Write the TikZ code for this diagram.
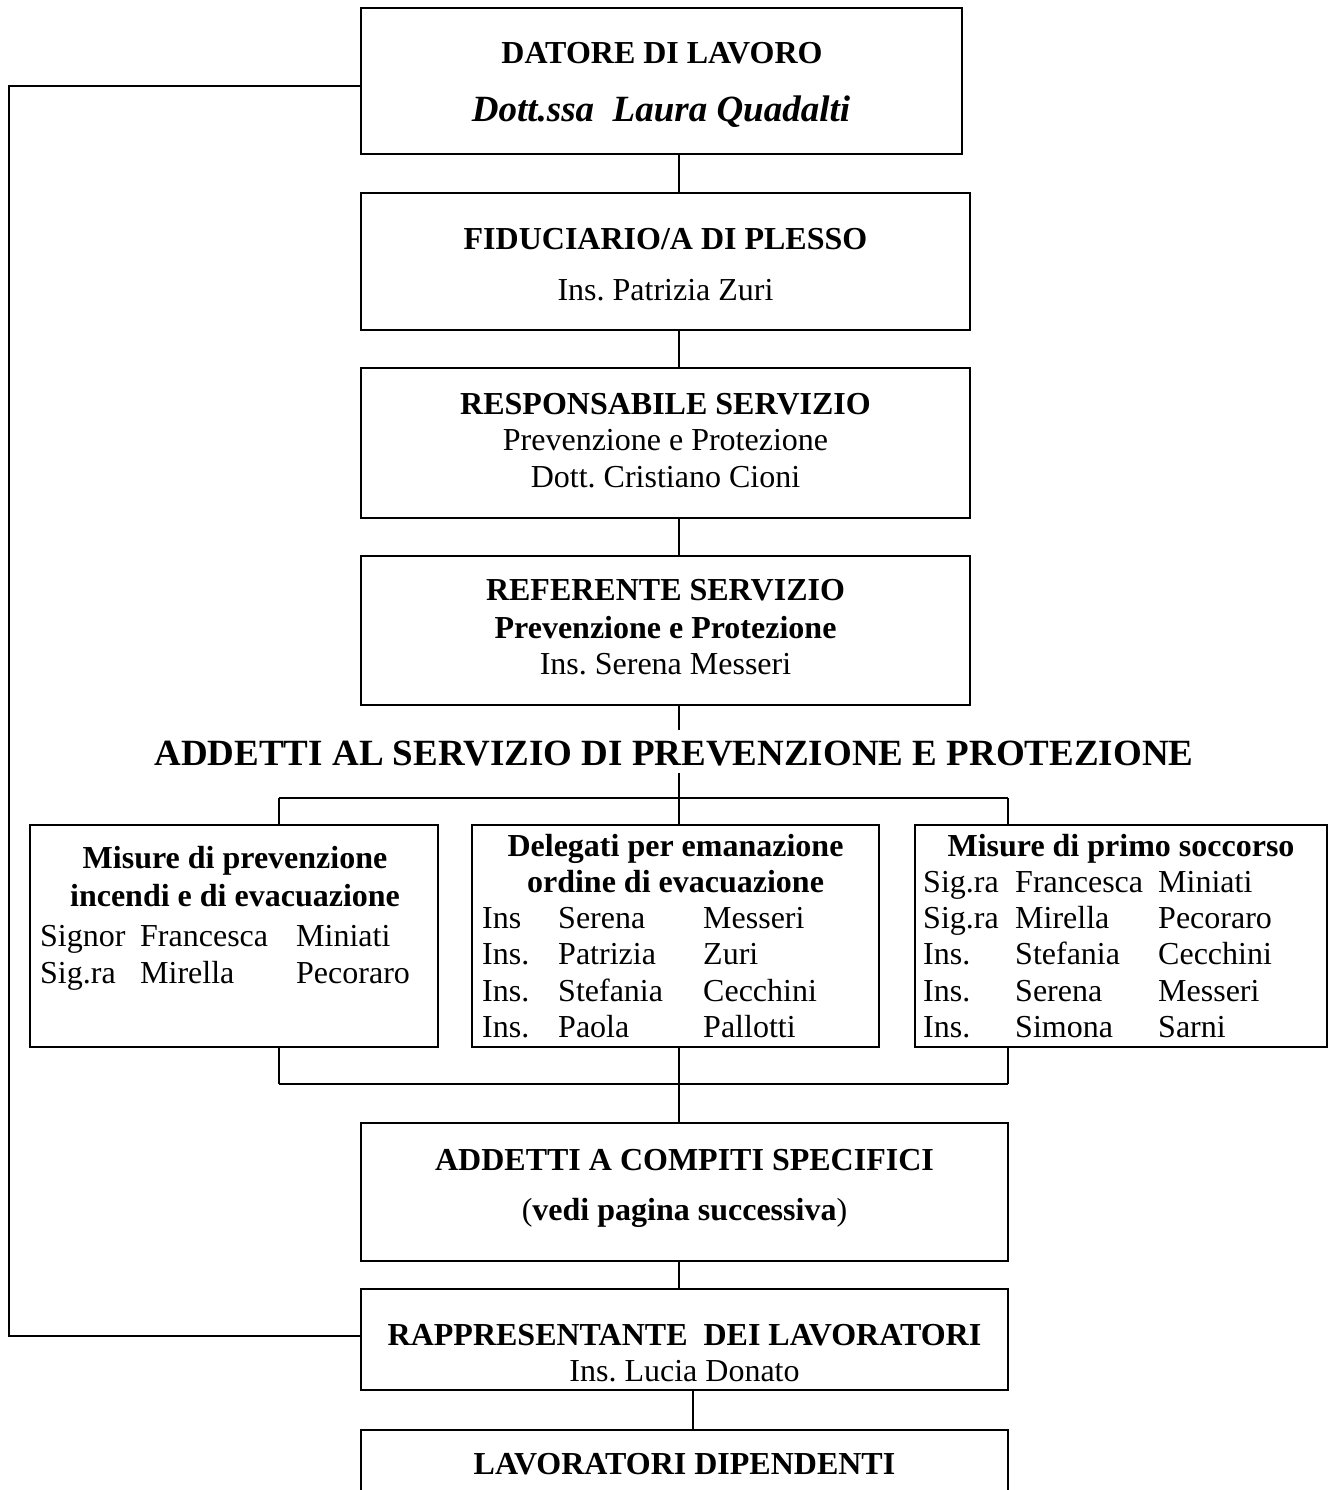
\documentclass[tikz,border=0pt]{standalone}
\usepackage{fontspec}
\setmainfont{Liberation Serif}
\frenchspacing
\begin{document}
\begin{tikzpicture}[x=1pt,y=-1pt,
  box/.style={draw, line width=1.6pt, rectangle, inner sep=0pt, outer sep=0pt},
  conn/.style={line width=1.6pt},
  txt/.style={anchor=base, inner sep=0pt, font=\fontsize{32}{36}\selectfont},
  btxt/.style={txt, font=\fontsize{32}{36}\selectfont\bfseries},
  cell/.style={anchor=base west, inner sep=0pt, font=\fontsize{32}{36}\selectfont},
  big/.style={anchor=base, inner sep=0pt, font=\fontsize{37}{42}\selectfont\bfseries}
]
\useasboundingbox (0,0) rectangle (1332,1490);
% boxes
\node[box, minimum width=601, minimum height=146] (b1) at (661.5,81) {};
\node[box, minimum width=609, minimum height=137] (b2) at (665.5,261.5) {};
\node[box, minimum width=609, minimum height=150] (b3) at (665.5,443) {};
\node[box, minimum width=609, minimum height=149] (b4) at (665.5,630.5) {};
\node[box, minimum width=408, minimum height=222] (b5) at (234,936) {};
\node[box, minimum width=407, minimum height=222] (b6) at (675.5,936) {};
\node[box, minimum width=412, minimum height=222] (b7) at (1121,936) {};
\node[box, minimum width=647, minimum height=138] (b8) at (684.5,1192) {};
\node[box, minimum width=647, minimum height=101] (b9) at (684.5,1339.5) {};
\node[box, minimum width=647, minimum height=100] (b10) at (684.5,1480) {};
% helper coordinates
\coordinate (cx) at (679,0);
\coordinate (lx) at (279,0);
\coordinate (rx) at (1008,0);
\coordinate (hx) at (693,0);
\coordinate (h1) at (679,730);
\coordinate (h2) at (679,773);
\coordinate (bartop) at (679,798);
\coordinate (barbot) at (679,1084);
\coordinate (l1) at (9,86);
\coordinate (l2) at (9,1336);
% connectors
\draw[conn] (b1.south -| cx) -- (b2.north -| cx);
\draw[conn] (b2.south -| cx) -- (b3.north -| cx);
\draw[conn] (b3.south -| cx) -- (b4.north -| cx);
\draw[conn] (b4.south -| cx) -- (h1);
\draw[conn] (h2) -- (bartop);
\draw[conn] (bartop -| lx) -- (bartop -| rx);
\draw[conn] (bartop -| lx) -- (b5.north -| lx);
\draw[conn] (bartop) -- (b6.north -| cx);
\draw[conn] (bartop -| rx) -- (b7.north -| rx);
\draw[conn] (b5.south -| lx) -- (barbot -| lx);
\draw[conn] (b6.south -| cx) -- (barbot);
\draw[conn] (b7.south -| rx) -- (barbot -| rx);
\draw[conn] (barbot -| lx) -- (barbot -| rx);
\draw[conn] (barbot) -- (b8.north -| cx);
\draw[conn] (b8.south -| cx) -- (b9.north -| cx);
\draw[conn] (b9.south -| hx) -- (b10.north -| hx);
\draw[conn] (b1.west |- l1) -- (l1) -- (l2) -- (b9.west |- l2);
% texts
\node[btxt] (t1a) at (662,64) {DATORE DI LAVORO};
\node[anchor=base, inner sep=0pt, font=\fontsize{37}{42}\selectfont\bfseries\itshape] (t1b) at (661,122) {Dott.ssa\ \ Laura Quadalti};
\node[btxt] (t2a) at (665.5,249) {FIDUCIARIO/A DI PLESSO};
\node[txt] (t2b) at (665.5,300) {Ins. Patrizia Zuri};
\node[btxt] (t3a) at (665.5,414) {RESPONSABILE SERVIZIO};
\node[txt] (t3b) at (665.5,450) {Prevenzione e Protezione};
\node[txt] (t3c) at (665.5,487) {Dott. Cristiano Cioni};
\node[btxt] (t4a) at (665.5,600) {REFERENTE SERVIZIO};
\node[btxt] (t4b) at (665.5,638) {Prevenzione e Protezione};
\node[txt] (t4c) at (665.5,674) {Ins. Serena Messeri};
\node[big] (head) at (674,765) {ADDETTI AL SERVIZIO DI PREVENZIONE E PROTEZIONE};
% left box
\node[btxt] (t5a) at (235,868) {Misure di prevenzione};
\node[btxt] (t5b) at (235,906) {incendi e di evacuazione};
\node[cell] (c51a) at (40,946) {Signor};
\node[cell] (c51b) at (140,946) {Francesca};
\node[cell] (c51c) at (296,946) {Miniati};
\node[cell] (c52a) at (40,983) {Sig.ra};
\node[cell] (c52b) at (140,983) {Mirella};
\node[cell] (c52c) at (296,983) {Pecoraro};
% middle box
\node[btxt] (t6a) at (675.5,856) {Delegati per emanazione};
\node[btxt] (t6b) at (675.5,892) {ordine di evacuazione};
\node[cell] (c61a) at (482,928) {Ins};
\node[cell] (c61b) at (558,928) {Serena};
\node[cell] (c61c) at (703,928) {Messeri};
\node[cell] (c62a) at (482,964) {Ins.};
\node[cell] (c62b) at (558,964) {Patrizia};
\node[cell] (c62c) at (703,964) {Zuri};
\node[cell] (c63a) at (482,1001) {Ins.};
\node[cell] (c63b) at (558,1001) {Stefania};
\node[cell] (c63c) at (703,1001) {Cecchini};
\node[cell] (c64a) at (482,1037) {Ins.};
\node[cell] (c64b) at (558,1037) {Paola};
\node[cell] (c64c) at (703,1037) {Pallotti};
% right box
\node[btxt] (t7a) at (1121,856) {Misure di primo soccorso};
\node[cell] (c71a) at (923,892) {Sig.ra};
\node[cell] (c71b) at (1015,892) {Francesca};
\node[cell] (c71c) at (1158,892) {Miniati};
\node[cell] (c72a) at (923,928) {Sig.ra};
\node[cell] (c72b) at (1015,928) {Mirella};
\node[cell] (c72c) at (1158,928) {Pecoraro};
\node[cell] (c73a) at (923,964) {Ins.};
\node[cell] (c73b) at (1015,964) {Stefania};
\node[cell] (c73c) at (1158,964) {Cecchini};
\node[cell] (c74a) at (923,1001) {Ins.};
\node[cell] (c74b) at (1015,1001) {Serena};
\node[cell] (c74c) at (1158,1001) {Messeri};
\node[cell] (c75a) at (923,1037) {Ins.};
\node[cell] (c75b) at (1015,1037) {Simona};
\node[cell] (c75c) at (1158,1037) {Sarni};
% lower boxes
\node[btxt] (t8a) at (684.5,1170) {ADDETTI A COMPITI SPECIFICI};
\node[txt] (t8b) at (684.5,1220) {(\textbf{vedi pagina successiva})};
\node[btxt] (t9a) at (684.5,1345) {RAPPRESENTANTE\ \ DEI LAVORATORI};
\node[txt] (t9b) at (684.5,1381) {Ins. Lucia Donato};
\node[btxt] (t10a) at (684.5,1474) {LAVORATORI DIPENDENTI};
\end{tikzpicture}
\end{document}
